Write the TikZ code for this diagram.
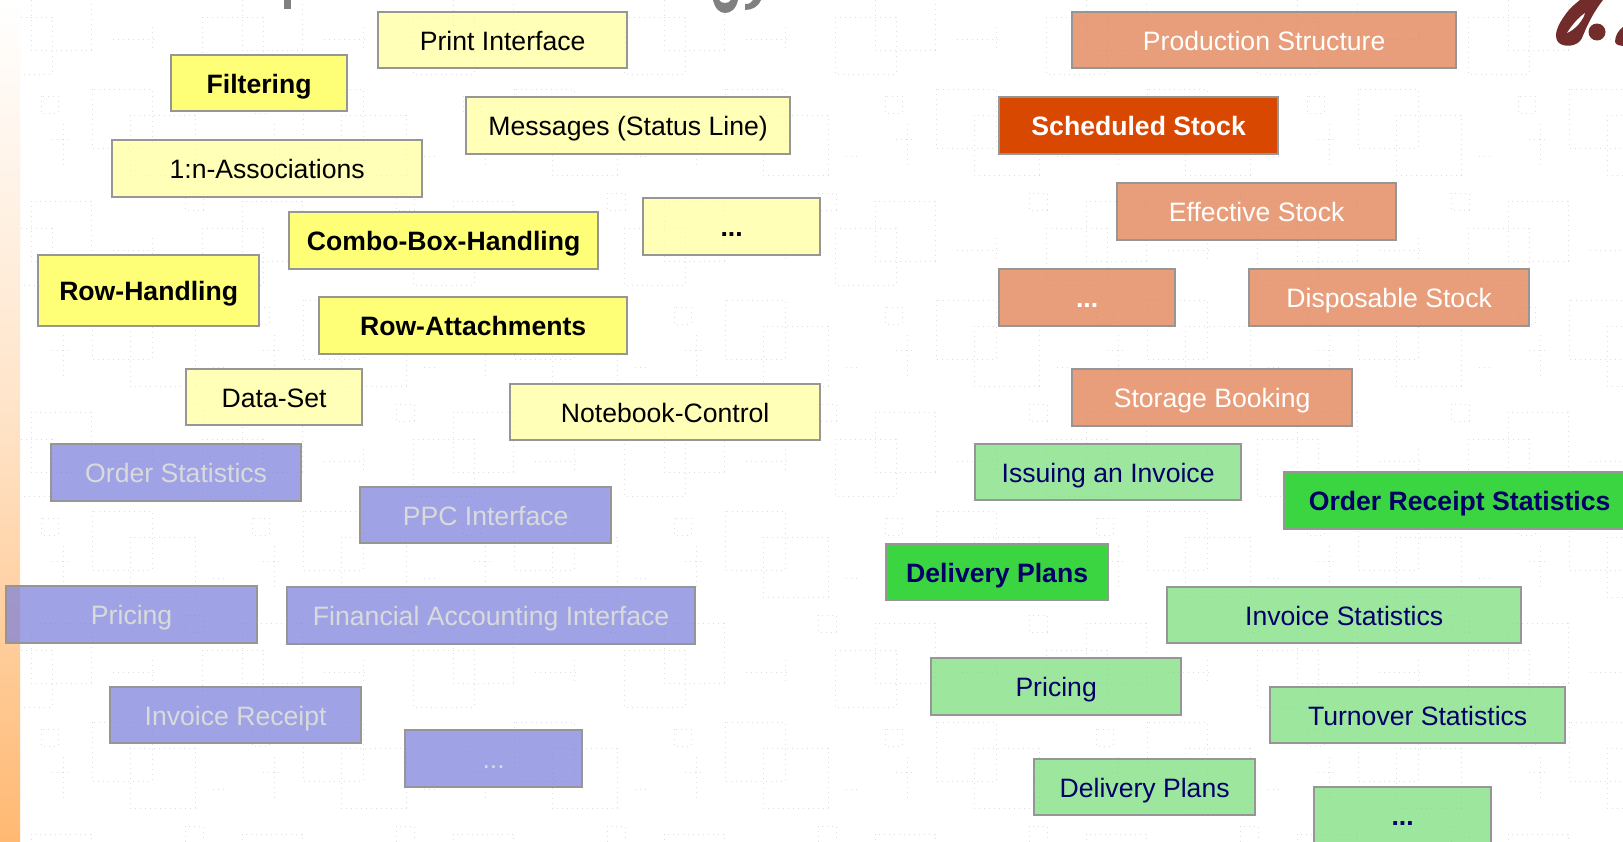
\documentclass[tikz,border=0pt]{standalone}
\usepackage{fontspec}
\setmainfont{Liberation Sans}
\definecolor{boxgray}{HTML}{969696}
\definecolor{tilegray}{HTML}{DEDEDE}
\definecolor{paleyellow}{HTML}{FFFF9B}
\definecolor{strongyellow}{HTML}{FFFF77}
\definecolor{paleblue}{HTML}{777DDB}
\definecolor{paleorange}{HTML}{E17644}
\definecolor{strongorange}{HTML}{D94800}
\definecolor{palegreen}{HTML}{72DD74}
\definecolor{stronggreen}{HTML}{3AD540}
\definecolor{navytext}{HTML}{000066}
\definecolor{greytext}{HTML}{DADADA}
\definecolor{logored}{HTML}{722C2C}
\definecolor{titlegray}{HTML}{808080}

\begin{document}
\begin{tikzpicture}[
    x = 0.5pt, % one unit is one reference pixel
    y = -0.5pt,
    line cap = butt
    ]

    \tikzset{
    plainbox/.style 2 args = {
        draw = boxgray,
        line width = 0.9pt,
        anchor = north west,
        xshift = -0.4pt,
        inner sep = 0pt,
        minimum width = #1*0.5pt-0.45pt,
        minimum height = #2*0.5pt-0.45pt,
        font = \fontsize{13.3pt}{16pt}\selectfont,
        text height = 1.05em,
        text depth = 0pt
    },
    palebox/.style = {fill opacity = 0.7, text opacity = 1},
    yellowbox/.style 2 args = {plainbox={#1}{#2}, palebox, fill = paleyellow, text = black},
    topyellow/.style 2 args = {plainbox={#1}{#2}, fill = strongyellow, text = black, font = \fontsize{13.3pt}{16pt}\selectfont\bfseries},
    bluebox/.style 2 args = {plainbox={#1}{#2}, palebox, fill = paleblue, text = greytext},
    orangebox/.style 2 args = {plainbox={#1}{#2}, palebox, fill = paleorange, text = white},
    toporange/.style 2 args = {plainbox={#1}{#2}, fill = strongorange, text = white, font = \fontsize{13.3pt}{16pt}\selectfont\bfseries},
    greenbox/.style 2 args = {plainbox={#1}{#2}, palebox, fill = palegreen, text = navytext},
    topgreen/.style 2 args = {plainbox={#1}{#2}, fill = stronggreen, text = navytext, font = \fontsize{13.3pt}{16pt}\selectfont\bfseries},
    tileline/.style = {draw = tilegray, line width = 0.45pt, dash pattern = on 0.5pt off 2pt}
    }

    \useasboundingbox (0,0) rectangle (1623,841);
    \clip (0,0) rectangle (1623,841);
    \fill[white] (0,0) rectangle (1623,841);

    % dotted wallpaper
    \foreach \i in {-1,...,7} {
        \foreach \j in {-3,...,1} {
            \begin{scope}[shift={(211*\i,211*\j)}, tileline]
                \draw (31,623) rectangle (91,683);
                \draw (-9,650) rectangle (52,707);
                \draw (92,722) rectangle (152,781);
                \draw (41,729) rectangle (58,746);
                \draw (63,757) -- (63,800) (52,772) -- (68,772);
                \draw (130,748) rectangle (195,808);
                \draw (113,672) -- (157,672) (152,660) -- (152,683);
                \draw (2,789) -- (16,789);
                \draw (185,615) rectangle (203,632);
            \end{scope}
        }
    }

    % left strip
    \shade[top color = white, bottom color = orange!55!white, middle color = orange!22!white] (0,0) rectangle (20,841);

    % what is left of the title
    \fill[titlegray] (284,0) rectangle (291,9);
    \fill[titlegray] (713,0) .. controls (715,9) and (720,13) .. (725,13) .. controls (731,13) and (736,9) .. (738,0) -- (731,0) .. controls (729,4) and (721,4) .. (719,0) -- cycle;
    \fill[titlegray] (753,0) .. controls (752,3) and (749,4) .. (745,4) -- (745,10) .. controls (752,10) and (758,7) .. (761,0) -- cycle;

    % logo corner
    \fill[logored] (1603,0) .. controls (1592,14) and (1586,28) .. (1582,38) .. controls (1578,47) and (1563,48) .. (1558,42) .. controls (1553,35) and (1558,25) .. (1565,15) .. controls (1570,8) and (1576,3) .. (1580,0) -- cycle;
    \fill[white] (1567,33) .. controls (1572,25) and (1578,18) .. (1585,13) .. controls (1583,20) and (1576,29) .. (1567,33) -- cycle;
    \fill[logored] (1597,32) circle [radius=8.5];
    \fill[logored] (1623,27) .. controls (1619,30) and (1615,35) .. (1615,42) .. controls (1616,45) and (1620,46) .. (1623,46) -- cycle;

    % left group, interface
    \node[yellowbox={250}{57}] (printif) at (378,11) {Print Interface};
    \node[topyellow={177}{57}] (filtering) at (171,54) {Filtering};
    \node[yellowbox={325}{58}] (messages) at (466,96) {Messages (Status Line)};
    \node[yellowbox={311}{58}] (assoc) at (112,139) {1:n-Associations};
    \node[topyellow={310}{58}] (combo) at (289,211) {Combo-Box-Handling};
    \node[yellowbox={178}{58}] (moreif) at (643,197) {\textbf{...}};
    \node[topyellow={222}{72}] (rowhandling) at (38,254) {Row-Handling};
    \node[topyellow={309}{58}] (rowattach) at (319,296) {Row-Attachments};
    \node[yellowbox={177}{57}] (dataset) at (186,368) {Data-Set};
    \node[yellowbox={311}{57}] (notebook) at (510,383) {Notebook-Control};

    % left group, sales
    \node[bluebox={251}{58}] (orderstat) at (51,443) {Order Statistics};
    \node[bluebox={252}{57}] (ppc) at (360,486) {PPC Interface};
    \node[bluebox={252}{58}] (pricingl) at (6,585) {Pricing};
    \node[bluebox={409}{58}] (finance) at (287,586) {Financial Accounting Interface};
    \node[bluebox={252}{57}] (receipt) at (110,686) {Invoice Receipt};
    \node[bluebox={178}{58}] (moresales) at (405,729) {...};

    % right group, stock
    \node[orangebox={385}{57}] (production) at (1072,11) {Production Structure};
    \node[toporange={280}{58}] (scheduled) at (999,96) {Scheduled Stock};
    \node[orangebox={280}{58}] (effective) at (1117,182) {Effective Stock};
    \node[orangebox={177}{58}] (morestock) at (999,268) {\textbf{...}};
    \node[orangebox={281}{58}] (disposable) at (1249,268) {Disposable Stock};
    \node[orangebox={281}{58}] (storage) at (1072,368) {Storage Booking};

    % right group, invoices
    \node[greenbox={267}{57}] (issuing) at (975,443) {Issuing an Invoice};
    \node[topgreen={352}{58}] (orderreceipt) at (1284,471) {Order Receipt Statistics};
    \node[topgreen={223}{57}] (deliverytop) at (886,543) {Delivery Plans};
    \node[greenbox={355}{57}] (invoicestat) at (1167,586) {Invoice Statistics};
    \node[greenbox={251}{58}] (pricingr) at (931,657) {Pricing};
    \node[greenbox={296}{57}] (turnover) at (1270,686) {Turnover Statistics};
    \node[greenbox={222}{57}] (delivery) at (1034,758) {Delivery Plans};
    \node[greenbox={178}{58}] (moregreen) at (1314,786) {\textbf{...}};
\end{tikzpicture}
\end{document}
